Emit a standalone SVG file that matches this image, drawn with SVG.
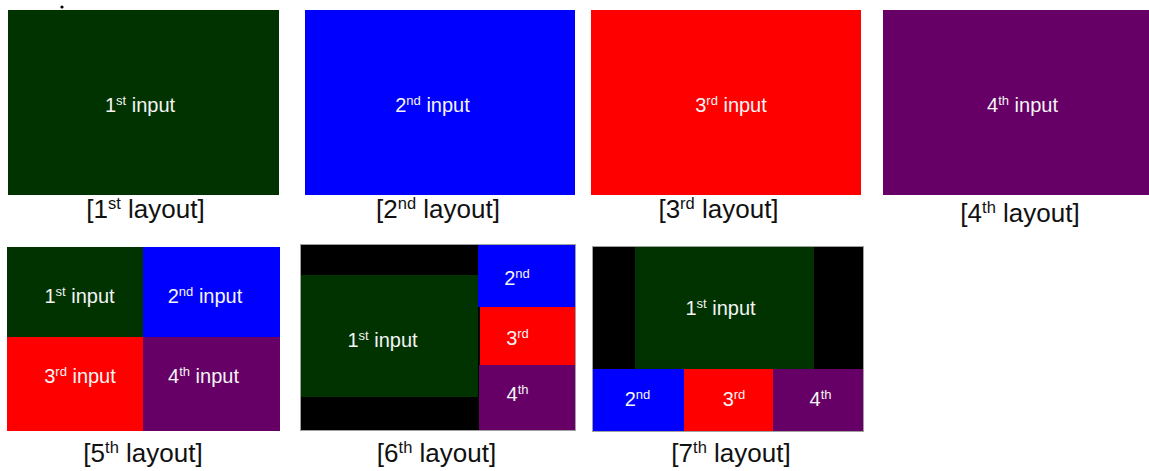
<svg xmlns="http://www.w3.org/2000/svg" width="1149" height="471" viewBox="0 0 1149 471">
<style>
text{font-family:"Liberation Sans",Arial,sans-serif}
.in{font-size:20px;fill:#f4f4f4;text-anchor:middle}
.in .s{font-size:13px}
.lb{font-size:26px;fill:#111;text-anchor:middle}
.lb .s{font-size:16.5px}
.g{fill:#003300}.b{fill:#0000ff}.r{fill:#ff0000}.p{fill:#660066}.k{fill:#000}
.fr{fill:none;stroke:#a0a0a0;stroke-width:1}
</style>
<rect width="1149" height="471" fill="#fff"/>
<circle cx="62" cy="7" r="1.6" fill="#000"/>

<g id="layout1">
<rect class="g" x="8" y="10" width="271" height="185"/>
<text class="in" x="140" y="112">1<tspan class="s" dy="-7">st</tspan><tspan dy="7"> input</tspan></text>
<text class="lb" x="145.5" y="218">[1<tspan class="s" dy="-9">st</tspan><tspan dy="9"> layout]</tspan></text>
</g>

<g id="layout2">
<rect class="b" x="305" y="10" width="270" height="185"/>
<text class="in" x="432.5" y="112">2<tspan class="s" dy="-7">nd</tspan><tspan dy="7"> input</tspan></text>
<text class="lb" x="438" y="218">[2<tspan class="s" dy="-9">nd</tspan><tspan dy="9"> layout]</tspan></text>
</g>

<g id="layout3">
<rect class="r" x="591" y="10" width="270" height="185"/>
<text class="in" x="731" y="112">3<tspan class="s" dy="-7">rd</tspan><tspan dy="7"> input</tspan></text>
<text class="lb" x="718.5" y="218">[3<tspan class="s" dy="-9">rd</tspan><tspan dy="9"> layout]</tspan></text>
</g>

<g id="layout4">
<rect class="p" x="883" y="10" width="266" height="185"/>
<text class="in" x="1022.5" y="112">4<tspan class="s" dy="-7">th</tspan><tspan dy="7"> input</tspan></text>
<text class="lb" x="1020" y="222">[4<tspan class="s" dy="-9">th</tspan><tspan dy="9"> layout]</tspan></text>
</g>

<g id="layout5">
<rect class="g" x="7" y="247" width="136" height="90"/>
<rect class="b" x="143" y="247" width="137" height="90"/>
<rect class="r" x="7" y="337" width="136" height="94"/>
<rect class="p" x="143" y="337" width="137" height="94"/>
<text class="in" x="79.5" y="303">1<tspan class="s" dy="-7">st</tspan><tspan dy="7"> input</tspan></text>
<text class="in" x="205" y="303">2<tspan class="s" dy="-7">nd</tspan><tspan dy="7"> input</tspan></text>
<text class="in" x="80" y="383">3<tspan class="s" dy="-7">rd</tspan><tspan dy="7"> input</tspan></text>
<text class="in" x="203.5" y="383">4<tspan class="s" dy="-7">th</tspan><tspan dy="7"> input</tspan></text>
<text class="lb" x="143" y="462">[5<tspan class="s" dy="-9">th</tspan><tspan dy="9"> layout]</tspan></text>
</g>

<g id="layout6">
<rect class="k" x="300" y="244" width="276" height="187"/>
<rect class="g" x="300" y="275" width="178" height="122"/>
<rect class="b" x="478" y="244" width="98" height="63"/>
<rect class="r" x="480" y="307" width="96" height="58"/>
<rect class="p" x="479" y="365" width="97" height="66"/>
<rect class="fr" x="300.5" y="244.5" width="275" height="186"/>
<text class="in" x="382.5" y="347">1<tspan class="s" dy="-7">st</tspan><tspan dy="7"> input</tspan></text>
<text class="in" x="517" y="285">2<tspan class="s" dy="-7">nd</tspan></text>
<text class="in" x="517.5" y="345">3<tspan class="s" dy="-7">rd</tspan></text>
<text class="in" x="517.5" y="401">4<tspan class="s" dy="-7">th</tspan></text>
<text class="lb" x="436.5" y="462">[6<tspan class="s" dy="-9">th</tspan><tspan dy="9"> layout]</tspan></text>
</g>

<g id="layout7">
<rect class="k" x="592" y="246" width="272" height="186"/>
<rect class="g" x="635" y="246" width="179" height="123"/>
<rect class="b" x="592" y="369" width="92" height="63"/>
<rect class="r" x="684" y="369" width="89" height="63"/>
<rect class="p" x="773" y="369" width="91" height="63"/>
<rect class="fr" x="592.5" y="246.5" width="271" height="185"/>
<text class="in" x="720.5" y="315">1<tspan class="s" dy="-7">st</tspan><tspan dy="7"> input</tspan></text>
<text class="in" x="637.5" y="406">2<tspan class="s" dy="-7">nd</tspan></text>
<text class="in" x="734" y="406">3<tspan class="s" dy="-7">rd</tspan></text>
<text class="in" x="820.5" y="406">4<tspan class="s" dy="-7">th</tspan></text>
<text class="lb" x="731" y="462">[7<tspan class="s" dy="-9">th</tspan><tspan dy="9"> layout]</tspan></text>
</g>
</svg>
